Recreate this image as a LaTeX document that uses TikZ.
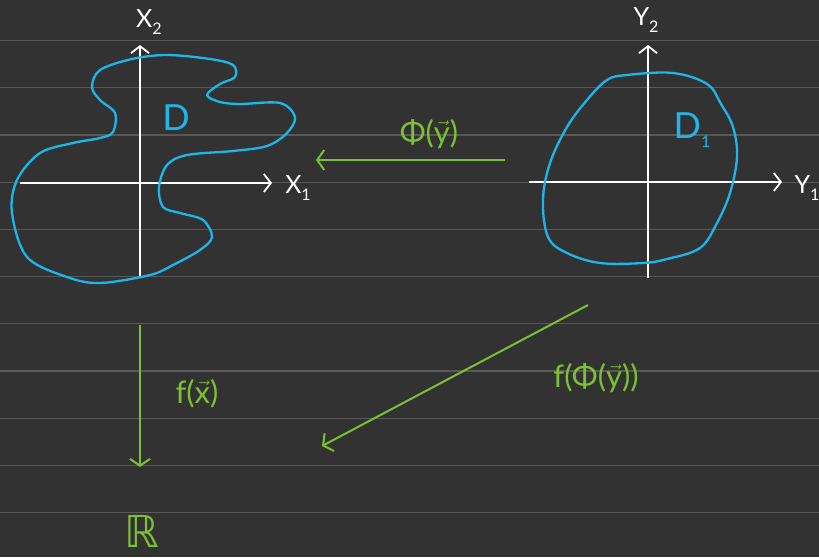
\documentclass[tikz,border=0pt]{standalone}
\usepackage{amsmath,amssymb}
\usepackage{fontspec}
\setmainfont{Lato}
\newfontfamily\symbfont{DejaVu Sans}
\usepackage{tikz}
\usetikzlibrary{arrows.meta}
\usepackage{xcolor}
\definecolor{boardbg}  {RGB}{ 50, 50, 50}
\definecolor{rulegray} {RGB}{ 88, 88, 88}
\definecolor{domblue}  {RGB}{ 28,182,232}
\definecolor{mapgrn}   {RGB}{124,192, 52}
\newcommand{\sub}[1]{\raisebox{-0.5ex}{\fontsize{16}{18}\selectfont #1}}
\tikzset{
  rule line/.style = {rulegray, line width=1.2pt},
  axis/.style      = {white, line width=1.8pt, -{Straight Barb[length=7pt, width=18pt]}},
  domain line/.style = {domblue, line width=2.3pt, line join=round},
  map arrow/.style = {mapgrn, line width=2pt, -{Straight Barb[length=7pt, width=20pt]}},
  axis label/.style= {white, font=\fontsize{25}{28}\selectfont},
  dom label/.style = {domblue, font=\fontsize{36}{40}\selectfont},
  map label/.style = {mapgrn, font=\fontsize{31}{34}\selectfont},
}

\begin{document}
\begin{tikzpicture}[x=1pt, y=-1pt]

  % ── board ─────────────────────────────────────────────────────────────────
  \fill[boardbg] (0,0) rectangle (819,557);
  \useasboundingbox (0,0) rectangle (819,557);
  \foreach \k in {0,...,10}{
    \draw[rule line] (0, {40.5+47.2*\k}) -- (819, {40.5+47.2*\k});
  }

  % ── left plane (x) ────────────────────────────────────────────────────────
  \coordinate (xo) at (140,183);
  \draw[axis] (140,278) -- (140,45);
  \draw[axis] (20,183) -- (272,183);
  \node[axis label] (xtwo) at (149,22) {X\sub{2}};
  \node[axis label] (xone) at (298,188) {X\sub{1}};

  % domain D
  \draw[domain line] plot[smooth cycle, tension=0.55] coordinates {
    (132,59) (167,55) (210,59) (233,65) (235,77) (220,84) (207,95)
    (220,102) (240,104) (280,103) (295,117) (287,133) (267,146)
    (233,151) (187,155) (167,165) (159,187) (163,207) (180,213)
    (203,220) (212,237) (200,250) (173,265) (150,275) (100,283)
    (67,277) (27,257) (12,213) (17,180) (40,153) (73,143) (100,138)
    (113,132) (115,113) (100,100) (92,87) (100,70)
  };
  \node[dom label] (dlbl) at (176,118) {D};

  % ── right plane (y) ───────────────────────────────────────────────────────
  \coordinate (yo) at (648,182);
  \draw[axis] (648,278) -- (648,45);
  \draw[axis] (529,182) -- (782,182);
  \node[axis label] (ytwo) at (646,20) {Y\sub{2}};
  \node[axis label] (yone) at (807,188) {Y\sub{1}};

  % domain D1
  \draw[domain line] plot[smooth cycle, tension=0.6] coordinates {
    (627,75) (673,73) (707,84) (721,104) (733,127) (737,157) (730,193)
    (717,223) (700,248) (667,259) (643,263) (600,263) (567,253)
    (548,237) (543,200) (550,163) (567,127) (587,100) (607,80)
  };
  \node[dom label] (donelbl) at (692,130) {D\sub{1}};

  % ── maps ──────────────────────────────────────────────────────────────────
  \coordinate (phiA) at (505,160);
  \coordinate (phiB) at (316,160);
  \draw[map arrow] (phiA) -- (phiB);
  \node[map label] (philbl) at (429,134) {Φ(\ensuremath{\vec{\text{y}}})};

  \coordinate (fxA) at (140,325);
  \coordinate (fxB) at (140,467);
  \draw[map arrow] (fxA) -- (fxB);
  \node[map label] (fxlbl) at (197,394) {f(\ensuremath{\vec{\text{x}}})};

  \coordinate (fphiA) at (588,305);
  \coordinate (fphiB) at (322,446);
  \draw[map arrow] (fphiA) -- (fphiB);
  \node[map label] (fphilbl) at (596,378)
    {f(Φ(\ensuremath{\vec{\text{y}}}))};

  \node[mapgrn, inner sep=0pt, font=\symbfont\fontsize{44}{48}\selectfont]
    (R) at (142,531) {ℝ};

\end{tikzpicture}
\end{document}
